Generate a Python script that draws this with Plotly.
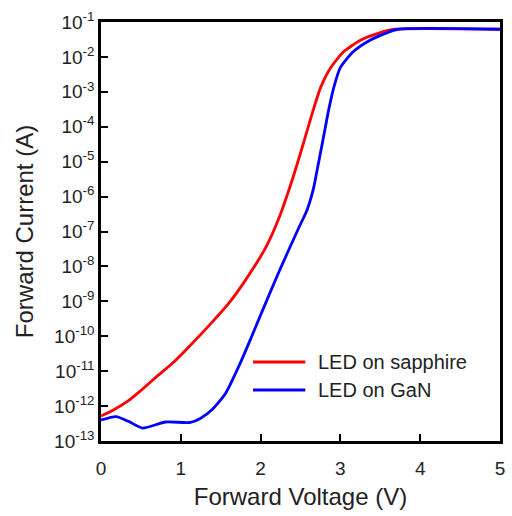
import plotly.graph_objects as go

# Forward I-V characteristics of the two LEDs (voltage in V, current in A)
v_sapphire = [0.0, 0.15, 0.34, 0.50, 0.70, 0.92, 1.10, 1.39, 1.60, 1.84, 2.07,
              2.24, 2.40, 2.52, 2.63, 2.75, 2.88, 3.04, 3.25, 3.49, 3.68, 5.0]
i_sapphire = [5.2e-13, 7.6e-13, 1.4e-12, 2.8e-12, 7.1e-12, 1.9e-11, 4.9e-11,
              2.5e-10, 8.7e-10, 5.1e-9, 3.7e-8, 2.8e-7, 3.2e-6, 2.5e-5, 1.8e-4,
              1.3e-3, 5.0e-3, 1.4e-2, 3.0e-2, 4.9e-2, 6.2e-2, 6.2e-2]

v_gan = [0.0, 0.19, 0.35, 0.52, 0.81, 1.12, 1.25, 1.39, 1.56, 1.74, 1.88, 2.01,
         2.24, 2.48, 2.58, 2.66, 2.72, 2.78, 2.85, 2.92, 3.00, 3.16, 3.37, 3.58,
         3.72, 5.0]
i_gan = [4.0e-13, 5.0e-13, 3.6e-13, 2.35e-13, 3.5e-13, 3.4e-13, 4.5e-13, 7.8e-13,
         2.3e-12, 1.6e-11, 8.9e-11, 4.6e-10, 7.9e-9, 1.3e-7, 4.0e-7, 1.6e-6,
         7.9e-6, 4.0e-5, 2.8e-4, 1.4e-3, 5.0e-3, 1.4e-2, 3.0e-2, 4.9e-2, 6.2e-2,
         6.2e-2]

series = [
    ("LED on sapphire", v_sapphire, i_sapphire, "#ff0000"),
    ("LED on GaN", v_gan, i_gan, "#0000ff"),
]

y_tickvals = [10.0 ** -k for k in range(1, 14)]
y_ticktext = ["10<sup>-%d</sup>" % k for k in range(1, 14)]
x_tickvals = [0, 1, 2, 3, 4, 5]

font_family = "Arial, Liberation Sans, sans-serif"
text_color = "#222222"

fig = go.Figure()
for name, v, i, color in series:
    fig.add_trace(go.Scatter(x=v, y=i, mode="lines", name=name, showlegend=False,
                             line=dict(color=color, width=2.8, shape="spline",
                                       smoothing=0.6)))

# Legend drawn as line samples with labels inside the plot area
legend_y = [0.1885, 0.1217]
for (name, _, _, color), ly in zip(series, legend_y):
    fig.add_shape(type="line", xref="paper", yref="paper", x0=0.381, x1=0.512,
                  y0=ly, y1=ly, line=dict(color=color, width=2.8))
    fig.add_annotation(xref="paper", yref="paper", x=0.540, y=ly, text=name,
                       showarrow=False, xanchor="left", yanchor="middle",
                       font=dict(size=20, color=text_color, family=font_family))

fig.update_layout(
    width=512, height=516,
    margin=dict(l=101, r=7, t=22, b=75),
    paper_bgcolor="white", plot_bgcolor="white",
    font=dict(family=font_family, color=text_color, size=19),
    showlegend=False,
)
fig.update_xaxes(
    range=[0, 5], tickvals=x_tickvals, ticks="inside", ticklen=7, tickwidth=2,
    tickcolor="black", showline=True, linecolor="black", linewidth=2.5,
    mirror=True, showgrid=False, zeroline=False,
    tickfont=dict(size=19), ticklabelstandoff=8,
    title=dict(text="Forward Voltage (V)", font=dict(size=24), standoff=11),
)
fig.update_yaxes(
    type="log", range=[-13, -1], tickvals=y_tickvals, ticktext=y_ticktext,
    ticks="inside", ticklen=7, tickwidth=2, tickcolor="black",
    showline=True, linecolor="black", linewidth=2.5, mirror=True,
    showgrid=False, zeroline=False, tickfont=dict(size=19),
    title=dict(text="Forward Current (A)", font=dict(size=24), standoff=14),
)

fig.write_html("out.html")
